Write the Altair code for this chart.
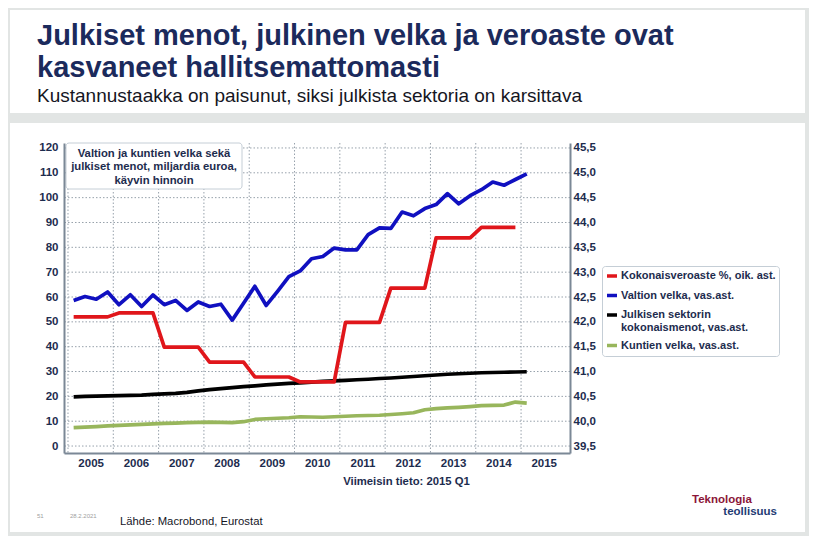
import altair as alt
import pandas as pd

# ---------------- data ----------------
years = list(range(2005, 2016))
quarters = [f"{y}Q{q}" for y in range(2005, 2015) for q in (1, 2, 3, 4)] + ["2015Q1"]

# Valtion velka, mrd euroa (vas. ast.)
valtion_velka = [58.6, 60.2, 59.1, 62.0,
                 56.9, 60.9, 56.2, 60.8,
                 56.9, 58.6, 54.6, 58.0,
                 56.2, 57.1, 50.7, 57.5,
                 64.3, 56.6, 62.3, 68.2,
                 70.5, 75.4, 76.3, 79.7,
                 79.0, 79.0, 85.1, 87.8,
                 87.6, 94.2, 92.7, 95.6,
                 97.2, 101.6, 97.5, 100.8,
                 103.2, 106.3, 105.0, 107.3,
                 109.6]
# Julkisen sektorin kokonaismenot (vas. ast.)
kokonaismenot = [19.8, 20.0, 20.1, 20.2,
                 20.3, 20.4, 20.5, 20.8,
                 21.0, 21.2, 21.6, 22.2,
                 22.7, 23.1, 23.5, 23.9,
                 24.2, 24.6, 24.9, 25.2,
                 25.4, 25.7, 26.0, 26.2,
                 26.4, 26.7, 26.9, 27.2,
                 27.4, 27.7, 28.0, 28.3,
                 28.6, 28.9, 29.1, 29.3,
                 29.5, 29.6, 29.7, 29.8,
                 29.9]
# Kuntien velka (vas. ast.)
kuntien_velka = [7.4, 7.6, 7.8, 8.1,
                 8.3, 8.5, 8.7, 8.9,
                 9.1, 9.2, 9.4, 9.5,
                 9.6, 9.5, 9.4, 9.8,
                 10.7, 11.0, 11.2, 11.4,
                 11.8, 11.7, 11.6, 11.8,
                 12.0, 12.2, 12.3, 12.4,
                 12.7, 13.0, 13.4, 14.6,
                 15.1, 15.4, 15.6, 15.9,
                 16.3, 16.4, 16.5, 17.7,
                 17.3]
# Kokonaisveroaste %, vuosittain (oik. ast.)
vero_years = list(range(2005, 2015))
veroaste = [42.10, 42.18, 41.49, 41.19, 40.89, 40.79, 41.99, 42.68, 43.69, 43.90]

left_ticks = list(range(0, 121, 10))
right_ticks = [39.5 + 0.5 * i for i in range(13)]

S_RED = "Kokonaisveroaste %, oik. ast."
S_BLUE = "Valtion velka, vas.ast."
S_BLACK = "Julkisen sektorin kokonaismenot, vas.ast."
S_GREEN = "Kuntien velka, vas.ast."

# ---------------- styles ----------------
FONT = "Liberation Sans, Arial, sans-serif"
NAVY = "#1d2c4e"
TITLE_NAVY = "#1b2a5c"
AXIS_C = "#7b8896"
GRID_C = "#97a1ab"
PAGE_BG = "#e2e5e4"
RED, BLUE, BLACK, GREEN = "#e0161b", "#1010c0", "#000000", "#98b65c"


def qpos(label):
    return int(label[:4]) + (int(label[-1]) - 0.5) / 4


rows = []
for name, vals in [(S_GREEN, kuntien_velka), (S_BLACK, kokonaismenot), (S_BLUE, valtion_velka)]:
    for q, v in zip(quarters, vals):
        rows.append({"t": qpos(q), "arvo": v, "sarja": name})
left_df = pd.DataFrame(rows)

rrows = []
for y, v in zip(vero_years, veroaste):
    for q in (1, 2, 3, 4):
        rrows.append({"t": qpos(f"{y}Q{q}"), "arvo": v, "sarja": S_RED})
right_df = pd.DataFrame(rrows)

X_SCALE = alt.Scale(domain=[2004.912, 2016.08], nice=False, zero=False)
YL_SCALE = alt.Scale(domain=[-2.8, 122], nice=False, zero=False)
YR_SCALE = alt.Scale(domain=[39.36, 45.6], nice=False, zero=False)

X_AXIS = alt.Axis(values=[y + 0.5 for y in years], labelExpr="floor(datum.value)",
                  ticks=False, grid=False, domainColor=AXIS_C, domainWidth=2,
                  labelFont=FONT, labelFontSize=11.5, labelFontWeight="bold",
                  labelColor=NAVY, labelPadding=4, labelFlush=False,
                  title="Viimeisin tieto: 2015 Q1", titleFont=FONT, titleFontSize=11.3,
                  titleFontWeight="bold", titleColor=NAVY, titleX=342, titleY=28,
                  titleBaseline="middle", titleAnchor="middle", zindex=1)
YL_AXIS = alt.Axis(orient="left", values=left_ticks, title=None, grid=False, ticks=False,
                   domainColor=AXIS_C, domainWidth=2, labelFont=FONT, labelFontSize=11.5,
                   labelFontWeight="bold", labelColor=NAVY, labelPadding=6,
                   labelFlush=False, labelOverlap=False, zindex=1)
YR_AXIS = alt.Axis(orient="right", values=right_ticks, title=None, grid=False, ticks=False,
                   domainColor=AXIS_C, domainWidth=2, labelFont=FONT, labelFontSize=11.5,
                   labelFontWeight="bold", labelColor=NAVY, labelPadding=3,
                   labelFlush=False, labelOverlap=False,
                   labelExpr="replace(format(datum.value, '.1f'), '.', ',')", zindex=1)

COLOR_SCALE = alt.Scale(domain=[S_RED, S_BLUE, S_BLACK, S_GREEN],
                        range=[RED, BLUE, BLACK, GREEN])
LEGEND = alt.Legend(title=None, orient="none", legendX=538, legendY=123,
                    direction="vertical", symbolType="stroke", symbolSize=100,
                    symbolStrokeWidth=3.5, labelFont=FONT, labelFontSize=11,
                    labelFontWeight="bold", labelColor=NAVY, labelLimit=300,
                    labelOffset=2, rowPadding=5.5, padding=3, fillColor="white",
                    strokeColor="#c5ced6", cornerRadius=3,
                    labelExpr=("datum.label == '" + S_BLACK + "' ? "
                               "['Julkisen sektorin', 'kokonaismenot, vas.ast.'] : datum.label"))


def one():
    return pd.DataFrame({"k": [0]})


def rect(x, x2, y, y2, **kw):
    return alt.Chart(one()).mark_rect(**kw).encode(
        x=alt.value(x), x2=alt.value(x2), y=alt.value(y), y2=alt.value(y2))


def text(t, x, y, **kw):
    return alt.Chart(one()).mark_text(**kw).encode(
        x=alt.value(x), y=alt.value(y), text=alt.value(t))


# ---------------- layers ----------------
panels = alt.layer(
    rect(-54, 741, -133, -30, color="white"),
    rect(-54, 741, -20, 389, color="white"),
)

hgrid = alt.Chart(pd.DataFrame({"v": left_ticks})).mark_rule(
    color=GRID_C, strokeDash=[1.5, 2], strokeWidth=1).encode(
    y=alt.Y("v:Q", scale=YL_SCALE, axis=YL_AXIS))
vgrid = alt.Chart(pd.DataFrame({"yr": years})).mark_rule(
    color=GRID_C, strokeDash=[1.5, 2], strokeWidth=1).encode(
    x=alt.X("yr:Q", scale=X_SCALE, axis=X_AXIS))

note_style = dict(font=FONT, fontSize=11.3, fontWeight="bold", color=NAVY,
                  align="center", baseline="middle")
note = alt.layer(
    rect(2, 178, 0, 46, color="white", stroke="#c5ced6", strokeWidth=1, cornerRadius=3),
    text("Valtion ja kuntien velka sekä", 90, 10.5, **note_style),
    text("julkiset menot, miljardia euroa,", 90, 24.2, **note_style),
    text("käyvin hinnoin", 90, 37.8, **note_style),
)

left_lines = alt.Chart(left_df).mark_line(strokeWidth=3.7, strokeJoin="round").encode(
    x=alt.X("t:Q", scale=X_SCALE, axis=X_AXIS),
    y=alt.Y("arvo:Q", scale=YL_SCALE, axis=YL_AXIS),
    color=alt.Color("sarja:N", scale=COLOR_SCALE, legend=LEGEND),
)

right_line = alt.Chart(right_df).mark_line(strokeWidth=3.7, strokeJoin="round").encode(
    x=alt.X("t:Q", scale=X_SCALE, axis=X_AXIS),
    y=alt.Y("arvo:Q", scale=YR_SCALE, axis=YR_AXIS),
    color=alt.Color("sarja:N", scale=COLOR_SCALE, legend=LEGEND),
)

titles = alt.layer(
    text("Julkiset menot, julkinen velka ja veroaste ovat", -27, -98, font=FONT,
         fontSize=29, fontWeight="bold", color=TITLE_NAVY, align="left", baseline="alphabetic"),
    text("kasvaneet hallitsemattomasti", -27, -66, font=FONT,
         fontSize=29, fontWeight="bold", color=TITLE_NAVY, align="left", baseline="alphabetic"),
    text("Kustannustaakka on paisunut, siksi julkista sektoria on karsittava", -27, -41,
         font=FONT, fontSize=19, color="#15161f", align="left", baseline="alphabetic"),
)

footer = alt.layer(
    text("51", -27, 373, font=FONT, fontSize=6, color="#a0a0a0", align="left", baseline="middle"),
    text("28.2.2021", 6, 373, font=FONT, fontSize=6, color="#a0a0a0", align="left", baseline="middle"),
    text("Lähde: Macrobond, Eurostat", 56, 382, font=FONT, fontSize=11.3, color="#15161f",
         align="left", baseline="alphabetic"),
    text("Teknologia", 628, 360, font=FONT, fontSize=11.5, fontWeight="bold", color="#8b1538",
         align="left", baseline="alphabetic"),
    text("teollisuus", 713, 372, font=FONT, fontSize=11.5, fontWeight="bold", color="#1f3c74",
         align="right", baseline="alphabetic"),
)

left = alt.layer(panels, hgrid, vgrid, note, left_lines, titles, footer)

chart = alt.layer(left, right_line).resolve_scale(y="independent").properties(
    width=506, height=310,
    padding={"left": 56, "top": 135, "right": 239, "bottom": 83},
    autosize=alt.AutoSizeParams(type="none"),
    background=PAGE_BG,
).configure_view(stroke=None)

chart.save("out.html", embed_options={"renderer": "svg", "actions": False})
